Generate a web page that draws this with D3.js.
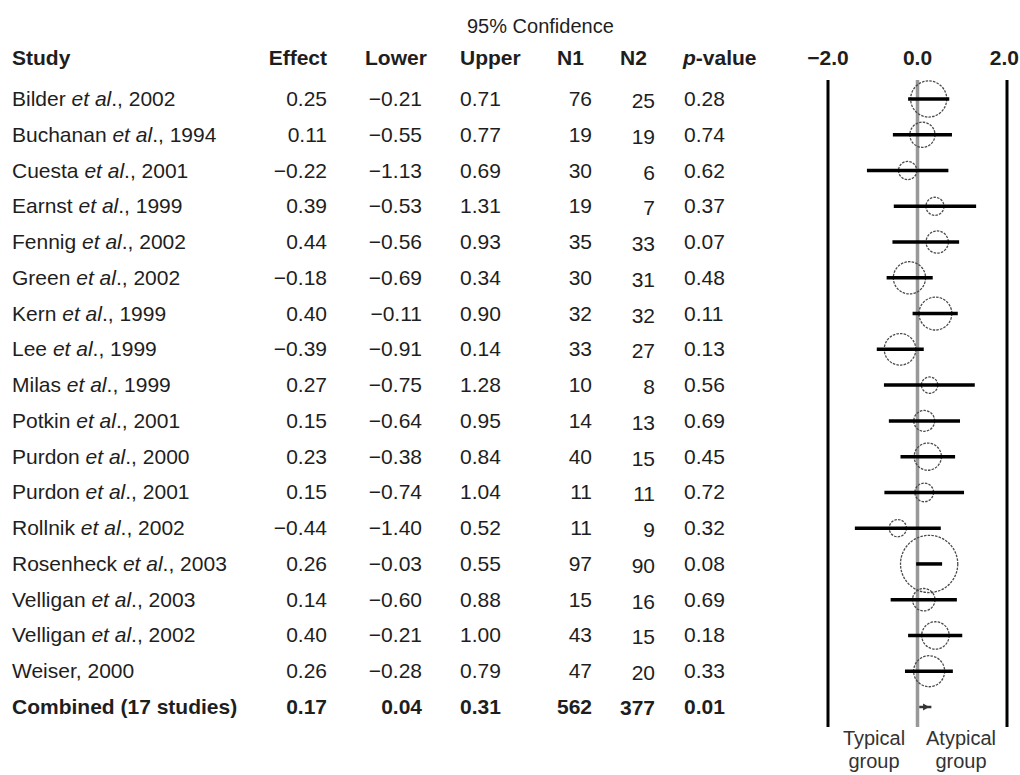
<!DOCTYPE html>
<html>
<head>
<meta charset="utf-8">
<script src="https://cdn.jsdelivr.net/npm/d3@7"></script>
<style>
  body { margin: 0; background: #fff; }
  svg text { font-family: "Liberation Sans", Arial, sans-serif; }
</style>
</head>
<body>
<div class="forest"></div>
<script>
// data
const authors = ["Bilder", "Buchanan", "Cuesta", "Earnst", "Fennig", "Green", "Kern", "Lee", "Milas",
    "Potkin", "Purdon", "Purdon", "Rollnik", "Rosenheck", "Velligan", "Velligan", "Weiser"];
const etAl = [true, true, true, true, true, true, true, true, true, true, true, true, true, true, true, true, false];
const years = [2002, 1994, 2001, 1999, 2002, 2002, 1999, 1999, 1999, 2001, 2000, 2001, 2002, 2003, 2003, 2002, 2000];
const effect = [0.25, 0.11, -0.22, 0.39, 0.44, -0.18, 0.40, -0.39, 0.27, 0.15, 0.23, 0.15, -0.44, 0.26, 0.14, 0.40, 0.26];
const lower = [-0.21, -0.55, -1.13, -0.53, -0.56, -0.69, -0.11, -0.91, -0.75, -0.64, -0.38, -0.74, -1.40, -0.03, -0.60, -0.21, -0.28];
const upper = [0.71, 0.77, 0.69, 1.31, 0.93, 0.34, 0.90, 0.14, 1.28, 0.95, 0.84, 1.04, 0.52, 0.55, 0.88, 1.00, 0.79];
const n1 = [76, 19, 30, 19, 35, 30, 32, 33, 10, 14, 40, 11, 11, 97, 15, 43, 47];
const n2 = [25, 19, 6, 7, 33, 31, 32, 27, 8, 13, 15, 11, 9, 90, 16, 15, 20];
const pval = [0.28, 0.74, 0.62, 0.37, 0.07, 0.48, 0.11, 0.13, 0.56, 0.69, 0.45, 0.72, 0.32, 0.08, 0.69, 0.18, 0.33];
const combined = { label: "Combined (17 studies)", effect: 0.17, lower: 0.04, upper: 0.31, n1: 562, n2: 377, p: 0.01 };
const axisTicks = [-2, 0, 2];

const draw = () => {
    const width = 1020, height = 775;
    const fs = 21;
    const ink = "#1e1e1e";
    const svg = d3.select(".forest").append("svg")
        .attr("width", width).attr("height", height);

    const n = authors.length;
    const y = d3.scalePoint().domain(d3.range(n + 1)).range([99, 707]);
    const x = d3.scaleLinear().domain([-2, 2]).range([828, 1007]);

    const fmt = v => (v < 0 ? "\u2212" : "") + d3.format(".2f")(Math.abs(v));

    // column anchors
    const colX = { study: 12, effect: 327, lower: 422, upper: 460, n1: 592, n2: 655, p: 684 };

    // headers
    svg.append("text").text("95% Confidence")
        .attr("x", 467).attr("y", 33)
        .attr("font-size", 20).attr("fill", ink);

    const headY = 65;
    const cols = [
        { name: "Study", x: 12, anchor: "start" },
        { name: "Effect", x: 327, anchor: "end" },
        { name: "Lower", x: 365, anchor: "start" },
        { name: "Upper", x: 460, anchor: "start" },
        { name: "N1", x: 557, anchor: "start" },
        { name: "N2", x: 620, anchor: "start" }
    ];
    cols.forEach(c => {
        svg.append("text").text(c.name)
            .attr("x", c.x).attr("y", headY).attr("text-anchor", c.anchor)
            .attr("font-size", fs).attr("font-weight", "bold").attr("fill", ink);
    });
    const ph = svg.append("text").attr("x", 683).attr("y", headY)
        .attr("font-size", fs).attr("font-weight", "bold").attr("fill", ink);
    ph.append("tspan").text("p").attr("font-style", "italic");
    ph.append("tspan").text("-value");

    // axis tick labels (last one pinned to the right edge so it is not clipped)
    const last = axisTicks.length - 1;
    svg.selectAll(".tick-label").data(axisTicks).enter().append("text")
        .attr("class", "tick-label")
        .text(d => (d < 0 ? "\u2212" : "") + d3.format(".1f")(Math.abs(d)))
        .attr("x", (d, i) => i === last ? width - 1 : x(d))
        .attr("y", headY)
        .attr("text-anchor", (d, i) => i === last ? "end" : "middle")
        .attr("font-size", fs).attr("font-weight", "bold").attr("fill", ink);

    // table rows
    const rows = d3.range(n);
    const base = i => y(i) + 7;

    rows.forEach(i => {
        const t = svg.append("text").attr("x", colX.study).attr("y", base(i))
            .attr("font-size", fs).attr("fill", ink);
        if (etAl[i]) {
            t.append("tspan").text(authors[i] + " ");
            t.append("tspan").text("et al").attr("font-style", "italic");
            t.append("tspan").text("., " + years[i]);
        } else {
            t.append("tspan").text(authors[i] + ", " + years[i]);
        }
        svg.append("text").text(fmt(effect[i])).attr("x", colX.effect).attr("y", base(i))
            .attr("text-anchor", "end").attr("font-size", fs).attr("fill", ink);
        svg.append("text").text(fmt(lower[i])).attr("x", colX.lower).attr("y", base(i))
            .attr("text-anchor", "end").attr("font-size", fs).attr("fill", ink);
        svg.append("text").text(fmt(upper[i])).attr("x", colX.upper).attr("y", base(i))
            .attr("font-size", fs).attr("fill", ink);
        svg.append("text").text(n1[i]).attr("x", colX.n1).attr("y", base(i))
            .attr("text-anchor", "end").attr("font-size", fs).attr("fill", ink);
        svg.append("text").text(n2[i]).attr("x", colX.n2).attr("y", base(i) + 2)
            .attr("text-anchor", "end").attr("font-size", fs).attr("fill", ink);
        svg.append("text").text(fmt(pval[i])).attr("x", colX.p).attr("y", base(i))
            .attr("font-size", fs).attr("fill", ink);
    });

    // combined row (bold)
    const cb = base(n);
    const bold = (txt, xx, anchor, dy) => svg.append("text").text(txt).attr("x", xx).attr("y", cb + (dy || 0))
        .attr("text-anchor", anchor).attr("font-size", fs).attr("font-weight", "bold").attr("fill", ink);
    bold(combined.label, colX.study, "start");
    bold(fmt(combined.effect), colX.effect, "end");
    bold(fmt(combined.lower), colX.lower, "end");
    bold(fmt(combined.upper), colX.upper, "start");
    bold(combined.n1, colX.n1, "end");
    bold(combined.n2, colX.n2, "end", 1);
    bold(fmt(combined.p), colX.p, "start");

    // plot frame
    const top = 80, bottom = 727;
    [-2, 2].forEach(v => {
        svg.append("line").attr("x1", x(v)).attr("x2", x(v))
            .attr("y1", top).attr("y2", bottom)
            .attr("stroke", "#000").attr("stroke-width", 3);
    });
    svg.append("line").attr("x1", x(0)).attr("x2", x(0))
        .attr("y1", top).attr("y2", bottom)
        .attr("stroke", "#999").attr("stroke-width", 3.5);

    // circles sized by precision (1 / CI width)
    const k = 16.6;
    svg.selectAll(".study-circle").data(rows).enter().append("circle")
        .attr("class", "study-circle")
        .attr("cx", i => x(effect[i])).attr("cy", i => y(i))
        .attr("r", i => k / (upper[i] - lower[i]))
        .attr("fill", "none").attr("stroke", "#4a4a4a")
        .attr("stroke-width", 1.3).attr("stroke-dasharray", "2.5,1.2");

    // confidence bars
    svg.selectAll(".ci").data(rows).enter().append("line")
        .attr("class", "ci")
        .attr("x1", i => x(lower[i])).attr("x2", i => x(upper[i]))
        .attr("y1", i => y(i)).attr("y2", i => y(i))
        .attr("stroke", "#000").attr("stroke-width", 3.5);

    // combined estimate
    svg.append("line")
        .attr("x1", x(combined.lower)).attr("x2", x(combined.upper))
        .attr("y1", y(n)).attr("y2", y(n))
        .attr("stroke", "#333").attr("stroke-width", 2.5);
    svg.append("path")
        .attr("d", d3.symbol().type(d3.symbolTriangle).size(22))
        .attr("transform", "translate(" + x(combined.effect) + "," + y(n) + ") rotate(90)")
        .attr("fill", "#333");

    // group labels
    const groups = [["Typical", "group", 874], ["Atypical", "group", 961]];
    groups.forEach(g => {
        svg.append("text").text(g[0]).attr("x", g[2]).attr("y", 745)
            .attr("text-anchor", "middle").attr("font-size", 20).attr("fill", "#333");
        svg.append("text").text(g[1]).attr("x", g[2]).attr("y", 768)
            .attr("text-anchor", "middle").attr("font-size", 20).attr("fill", "#333");
    });

    return svg;
};

draw();
</script>
</body>
</html>
